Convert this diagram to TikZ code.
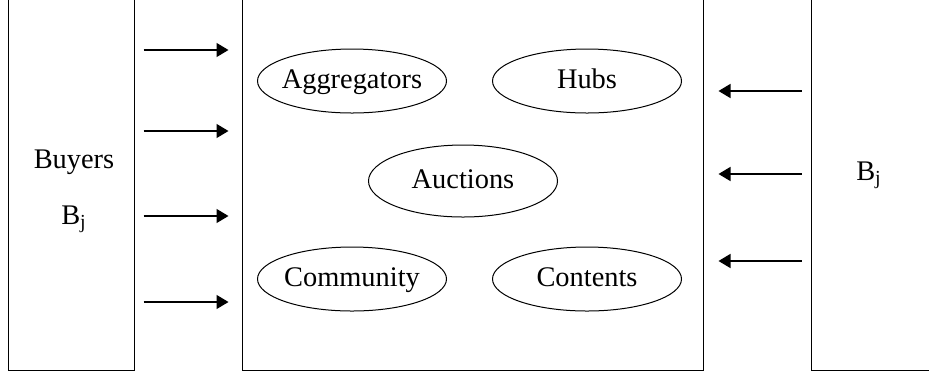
\documentclass[tikz,border=0pt]{standalone}
\usepackage{fontspec}
\setmainfont{Liberation Serif}
\usetikzlibrary{shapes.geometric,arrows.meta}

\begin{document}
\begin{tikzpicture}[x=0.5pt,y=-0.5pt,
  every node/.style={font=\fontsize{14.2}{17}\selectfont},
  side/.style={draw,line width=0.5pt,rectangle,inner sep=0pt},
  service/.style={draw,line width=0.5pt,ellipse,inner xsep=-10pt,inner ysep=0pt,
    text height=1.7ex,text depth=0.1ex,minimum width=94.5pt,minimum height=32pt},
  flow/.style={line width=0.7pt,-{Triangle[length=6pt,width=7pt]}}]
\useasboundingbox (0,0) rectangle (929,377);
\node[side,minimum width=63pt,minimum height=200pt] (buyerbox) at (71,170) {};
\node[side,minimum width=230.5pt,minimum height=200pt] (market) at (472.5,170) {};
\node[side,minimum width=75pt,minimum height=200pt] (sellerbox) at (886,170) {};

\node (buyers) at (74,162) {Buyers};
\node (bj) at (74,219) {B\textsubscript{j}};
\node (bjright) at (869,175) {B\textsubscript{j}};

\node[service] (aggregators) at (352,81) {Aggregators};
\node[service] (hubs) at (587,81) {Hubs};
\node[service,minimum height=36pt] (auctions) at (463,181) {Auctions};
\node[service] (community) at (352,279) {Community};
\node[service] (contents) at (587,279) {Contents};

\foreach \y in {50,131,216,302}
  \draw[flow,shorten <=4.5pt,shorten >=6.5pt] (buyerbox.east |- 0,\y) -- (market.west |- 0,\y);
\foreach \y in {91,174,261}
  \draw[flow,shorten <=4.5pt,shorten >=7.5pt] (sellerbox.west |- 0,\y) -- (market.east |- 0,\y);
\end{tikzpicture}
\end{document}
